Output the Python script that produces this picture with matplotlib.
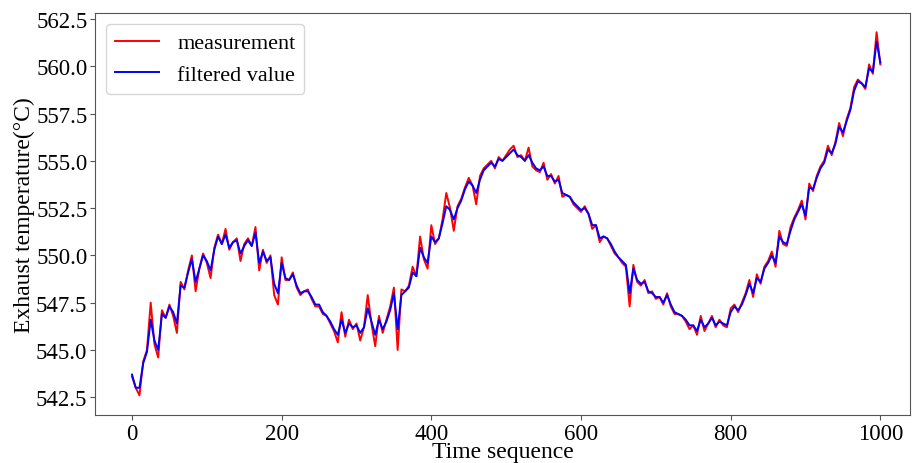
import numpy as np
import matplotlib
matplotlib.use("Agg")
import matplotlib.pyplot as plt

time_step = 5
measurement = [
    543.6, 543.0, 542.6, 544.4, 545.0, 547.5, 545.3, 544.6, 547.1, 546.7,
    547.4, 546.8, 545.9, 548.6, 548.2, 549.2, 550.0, 548.1, 549.3, 550.1,
    549.6, 548.8, 550.4, 551.1, 550.6, 551.4, 550.3, 550.7, 550.9, 549.7,
    550.6, 550.9, 550.5, 551.5, 549.2, 550.3, 549.6, 550.0, 547.9, 547.4,
    549.9, 548.7, 548.7, 549.1, 548.3, 547.9, 548.1, 548.2, 547.7, 547.3,
    547.3, 546.9, 546.8, 546.4, 546.0, 545.4, 547.0, 545.7, 546.6, 546.1,
    546.4, 545.5, 546.2, 547.9, 546.4, 545.2, 546.8, 545.9, 546.6, 547.3,
    548.3, 545.0, 548.2, 548.1, 548.4, 549.4, 548.9, 551.0, 549.8, 549.3,
    551.6, 550.6, 550.9, 551.9, 553.3, 552.5, 551.3, 552.6, 553.0, 553.6,
    554.1, 553.7, 552.7, 554.2, 554.6, 554.8, 555.0, 554.6, 555.2, 555.0,
    555.3, 555.6, 555.8, 555.2, 555.3, 555.0, 555.7, 554.7, 554.5, 554.4,
    554.9, 554.0, 554.3, 553.8, 554.2, 553.1, 553.2, 553.1, 552.7, 552.5,
    552.3, 552.6, 552.2, 551.4, 551.6, 550.7, 551.0, 550.9, 550.5, 550.1,
    549.9, 549.6, 549.4, 547.3, 549.5, 548.6, 548.4, 548.7, 548.0, 548.1,
    547.7, 547.8, 547.4, 548.0, 547.3, 546.9, 546.9, 546.8, 546.5, 546.1,
    546.3, 545.8, 546.8, 546.0, 546.4, 546.8, 546.2, 546.6, 546.3, 546.2,
    547.2, 547.4, 547.0, 547.5, 548.0, 548.7, 547.8, 549.0, 548.5, 549.4,
    549.7, 550.2, 549.4, 551.3, 550.6, 550.5, 551.5, 552.0, 552.4, 552.9,
    551.9, 553.8, 553.4, 554.2, 554.7, 555.0, 555.8, 555.3, 556.0, 557.0,
    556.3, 557.2, 557.8, 558.9, 559.3, 559.1, 558.8, 560.1, 559.6, 561.8,
    560.1,
]
filtered = [
    543.7, 543.0, 543.0, 544.3, 544.9, 546.6, 545.5, 545.0, 546.9, 546.7,
    547.3, 547.0, 546.4, 548.4, 548.3, 549.1, 549.8, 548.6, 549.3, 550.0,
    549.7, 549.2, 550.3, 551.0, 550.6, 551.1, 550.4, 550.7, 550.8, 550.1,
    550.5, 550.8, 550.5, 551.2, 549.6, 550.2, 549.7, 549.9, 548.5, 548.0,
    549.6, 548.8, 548.7, 549.0, 548.4, 548.0, 548.1, 548.1, 547.8, 547.4,
    547.4, 547.0, 546.8, 546.5, 546.1, 545.8, 546.6, 545.9, 546.4, 546.2,
    546.3, 545.9, 546.2, 547.2, 546.5, 545.8, 546.6, 546.1, 546.5, 547.1,
    548.0, 546.1, 547.9, 548.1, 548.3, 549.1, 548.9, 550.4, 549.9, 549.6,
    551.0, 550.7, 550.9, 551.7, 552.6, 552.4, 551.9, 552.5, 552.9, 553.5,
    553.9, 553.7, 553.3, 554.0, 554.5, 554.7, 554.9, 554.7, 555.1, 555.0,
    555.2, 555.4, 555.6, 555.3, 555.2, 555.0, 555.3, 554.9, 554.6, 554.5,
    554.7, 554.2, 554.2, 553.9, 554.0, 553.3, 553.2, 553.1, 552.8, 552.6,
    552.4, 552.5, 552.2, 551.6, 551.6, 550.9, 551.0, 550.9, 550.6, 550.2,
    549.9, 549.7, 549.5, 548.0, 549.3, 548.7, 548.5, 548.6, 548.1, 548.0,
    547.8, 547.8, 547.5, 547.9, 547.4, 547.0, 546.9, 546.8, 546.6, 546.3,
    546.3, 546.0, 546.6, 546.2, 546.4, 546.7, 546.3, 546.5, 546.4, 546.3,
    547.0, 547.3, 547.1, 547.4, 547.9, 548.5, 548.0, 548.8, 548.6, 549.3,
    549.6, 550.0, 549.6, 551.0, 550.7, 550.6, 551.3, 551.9, 552.3, 552.7,
    552.1, 553.6, 553.5, 554.1, 554.6, 554.9, 555.6, 555.4, 555.9, 556.8,
    556.5, 557.1, 557.7, 558.7, 559.2, 559.1, 558.9, 559.9, 559.7, 561.3,
    560.2,
]
time_seq = np.arange(len(measurement)) * time_step

plt.rcParams['font.family'] = ['Liberation Serif', 'DejaVu Serif']

fig = plt.figure(figsize=(9.13, 4.64), dpi=100)
ax = fig.add_axes([0.104, 0.103, 0.893, 0.867])
ax.plot(time_seq, measurement, color='red', lw=1.4, label='measurement')
ax.plot(time_seq, filtered, color='blue', lw=1.4, label='filtered value')
ax.set_xlim(-49.5, 1040)
ax.set_ylim(541.55, 562.82)
ax.set_xticks([0, 200, 400, 600, 800, 1000])
ax.set_yticks([542.5, 545.0, 547.5, 550.0, 552.5, 555.0, 557.5, 560.0, 562.5])
ax.set_yticklabels(['542.5', '545.0', '547.5', '550.0', '552.5', '555.0', '557.5', '560.0', '562.5'])
ax.tick_params(labelsize=16.5, color='#555555', pad=2)
for s in ax.spines.values():
    s.set_color('#555555')
ax.set_xlabel('Time sequence', fontsize=17, labelpad=-2)
ax.set_ylabel('Exhaust temperature(\u00b0C)', fontsize=17, labelpad=1)
ax.legend(loc='upper left', fontsize=16, handlelength=2.0, framealpha=0.8)
fig.savefig('out.png', dpi=100)
